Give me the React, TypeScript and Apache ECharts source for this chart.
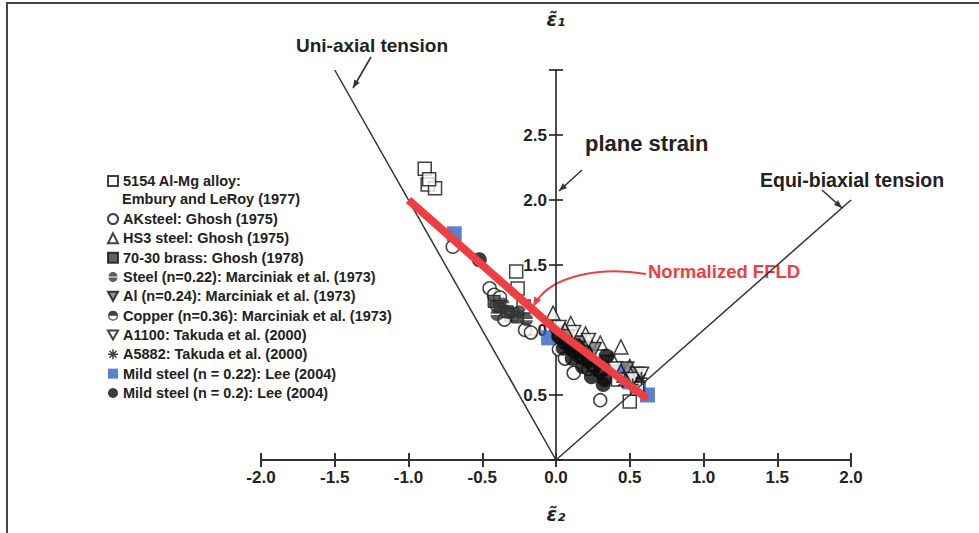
import React, { useEffect, useRef } from "react";
import * as echarts from "echarts";

// ---------- data (strain coordinates: [epsilon2, epsilon1]) ----------
const X_MIN = -2.0;
const X_MAX = 2.0;
const Y_MIN = 0;
const Y_MAX = 3.0;
const STEP = 0.5;

const NAME_ALMG = "5154 Al-Mg alloy: Embury and LeRoy (1977)";
const NAME_AK = "AKsteel: Ghosh (1975)";
const NAME_HS3 = "HS3 steel: Ghosh (1975)";
const NAME_BRASS = "70-30 brass: Ghosh (1978)";
const NAME_STEEL = "Steel (n=0.22): Marciniak et al. (1973)";
const NAME_AL = "Al (n=0.24): Marciniak et al. (1973)";
const NAME_CU = "Copper (n=0.36): Marciniak et al. (1973)";
const NAME_A1100 = "A1100: Takuda et al. (2000)";
const NAME_A5882 = "A5882: Takuda et al. (2000)";
const NAME_MILD22 = "Mild steel (n = 0.22): Lee (2004)";
const NAME_MILD20 = "Mild steel (n = 0.2): Lee (2004)";

const alMg5154 = [
  [-0.89, 2.24], [-0.87, 2.12], [-0.82, 2.09], [-0.86, 2.16],
  [-0.27, 1.45], [-0.26, 1.32], [-0.22, 1.18], [-0.3, 1.12],
  [0.02, 0.98], [0.15, 0.9], [0.3, 0.7], [0.42, 0.62], [0.5, 0.45], [0.55, 0.55],
];
const akSteel = [
  [-0.7, 1.64], [-0.45, 1.32], [-0.42, 1.27], [-0.4, 1.19], [-0.35, 1.08],
  [-0.38, 1.25], [-0.21, 1.0], [-0.17, 0.98], [0.02, 0.85], [0.06, 0.78],
  [0.12, 0.67], [0.22, 0.7], [0.3, 0.46], [0.15, 0.85],
];
const hs3Steel = [
  [-0.02, 1.13], [0.1, 1.05], [0.2, 0.97], [0.3, 0.9], [0.44, 0.87],
  [0.38, 0.78], [0.5, 0.72], [0.06, 1.0],
];
const brass7030 = [[-0.42, 1.22], [-0.38, 1.18], [-0.33, 1.14], [-0.26, 1.1]];
const steel022 = [[-0.4, 1.12], [-0.31, 1.13], [-0.25, 1.14], [-0.36, 1.2], [-0.2, 1.08]];
const al024 = [[0.0, 0.97], [0.08, 0.95], [0.16, 0.9], [0.26, 0.85], [0.35, 0.75], [0.48, 0.7], [0.55, 0.66]];
const copper036 = [[0.05, 0.9], [0.12, 0.83], [0.18, 0.78], [0.25, 0.72], [0.32, 0.7]];
const a1100 = [[0.02, 1.02], [0.12, 0.98], [0.22, 0.92], [0.4, 0.7], [0.52, 0.62], [0.58, 0.66]];
const a5882 = [[0.58, 0.63], [0.52, 0.58], [0.45, 0.6]];
const mild022 = [[-0.69, 1.74], [-0.05, 0.94], [0.42, 0.68], [0.5, 0.6], [0.56, 0.55], [0.62, 0.5]];
const mild020 = [
  [-0.52, 1.54], [0.02, 0.95], [0.07, 0.9], [0.1, 0.86], [0.14, 0.88], [0.16, 0.8],
  [0.2, 0.83], [0.22, 0.76], [0.26, 0.72], [0.3, 0.68], [0.33, 0.62], [0.34, 0.8],
  [0.11, 0.78], [0.18, 0.72], [0.05, 0.86], [0.24, 0.64], [0.32, 0.58],
];

const uniaxialLine = [[0, 0], [-1.5, 3.0]];
const biaxialLine = [[0, 0], [2.0, 2.0]];
const ffldLine = [[-1.0, 2.0], [0.0, 1.0], [0.62, 0.47]];

const legendOrder = [
  NAME_AK, NAME_HS3, NAME_BRASS, NAME_STEEL, NAME_AL, NAME_CU,
  NAME_A1100, NAME_A5882, NAME_MILD22, NAME_MILD20,
];

// ---------- styling helpers ----------
const FONT = "'Liberation Sans', Arial, Helvetica, sans-serif";
const RED = "#ef3e42";
const INK = "#222";
const GRID_LEFT = 261;
const GRID_RIGHT = 128;
const GRID_W = 979 - GRID_LEFT - GRID_RIGHT;
// offset that places the vertical axis on epsilon2 = 0
const Y_AXIS_OFFSET = -GRID_W * (0 - X_MIN) / (X_MAX - X_MIN);

const SYM_DOWN = "path://M-10,-9L10,-9L0,9Z";
const SYM_SPLIT = "path://M-10,-1.2A10,10 0 0 1 10,-1.2Z M-10,1.2A10,10 0 0 0 10,1.2Z";
const SYM_HALF = "path://M-10,0A10,10 0 0 1 10,0Z M-10,0A10,10 0 0 0 10,0L7.5,0A7.5,7.5 0 0 1 -7.5,0Z";
const SYM_STAR =
  "path://M-1.5,-10L1.5,-10L1.5,-3.6L6,-8.1L8.1,-6L3.6,-1.5L10,-1.5L10,1.5L3.6,1.5L8.1,6L6,8.1L1.5,3.6L1.5,10L-1.5,10L-1.5,3.6L-6,8.1L-8.1,6L-3.6,1.5L-10,1.5L-10,-1.5L-3.6,-1.5L-8.1,-6L-6,-8.1L-1.5,-3.6Z";

function scatter(name: string, data: number[][], symbol: string, size: number, itemStyle: any) {
  return {
    type: "scatter",
    name,
    data,
    symbol,
    symbolSize: size,
    itemStyle,
    xAxisIndex: 0,
    yAxisIndex: 0,
    silent: true,
  };
}

const openStyle = { color: "#fff", borderColor: "#111", borderWidth: 1.5 };

function arrowHead(x1: number, y1: number, x2: number, y2: number, color: string, len = 8, w = 3.2) {
  const a = Math.atan2(y2 - y1, x2 - x1);
  const bx = x2 - len * Math.cos(a);
  const by = y2 - len * Math.sin(a);
  const px = -Math.sin(a) * w;
  const py = Math.cos(a) * w;
  return {
    type: "polygon",
    silent: true,
    shape: { points: [[x2, y2], [bx + px, by + py], [bx - px, by - py]] },
    style: { fill: color },
  };
}

function arrow(x1: number, y1: number, x2: number, y2: number, color: string, width = 1.6) {
  return [
    { type: "line", silent: true, shape: { x1, y1, x2, y2 }, style: { stroke: color, lineWidth: width } },
    arrowHead(x1, y1, x2, y2, color),
  ];
}

function label(text: string, x: number, y: number, size: number, color = INK) {
  return {
    type: "text",
    silent: true,
    style: {
      text, x, y, fill: color,
      font: `bold ${size}px ${FONT}`,
      align: "left", verticalAlign: "middle",
    },
  };
}

export default function App() {
  const ref = useRef<HTMLDivElement>(null);

  useEffect(() => {
    if (!ref.current) return;
    const chart = echarts.init(ref.current, undefined, { renderer: "svg" });

    const axisLabelStyle = { fontFamily: FONT, fontWeight: "bold", fontSize: 17, color: INK };
    const legendText = { fontFamily: FONT, fontWeight: "bold", fontSize: 14.5, color: INK, lineHeight: 16 };

    const option: any = {
      animation: false,
      backgroundColor: "#fff",
      grid: { left: GRID_LEFT, right: GRID_RIGHT, top: 70, bottom: 73 },
      xAxis: [
        {
          type: "value", min: X_MIN, max: X_MAX, interval: STEP, position: "bottom",
          name: "ε̃₂", nameLocation: "middle", nameGap: 44,
          nameTextStyle: { fontFamily: "'DejaVu Sans', sans-serif", fontWeight: "bold", fontStyle: "italic", fontSize: 19, color: INK },
          axisLine: { onZero: false, lineStyle: { color: "#333", width: 2 } },
          axisTick: { inside: false, length: 7, lineStyle: { color: "#333", width: 2 } },
          axisLabel: { ...axisLabelStyle, margin: 9, formatter: (v: number) => v.toFixed(1) },
          splitLine: { show: false },
        },
        {
          type: "value", min: X_MIN, max: X_MAX, interval: STEP, position: "bottom",
          axisLine: { show: true, onZero: false, lineStyle: { color: "rgba(0,0,0,0)", width: 0 } },
          axisTick: { inside: true, length: 7, lineStyle: { color: "#333", width: 2 } },
          axisLabel: { show: false },
          splitLine: { show: false },
        },
      ],
      yAxis: [
        {
          type: "value", min: Y_MIN, max: Y_MAX, interval: STEP, position: "left",
          offset: Y_AXIS_OFFSET,
          name: "ε̃₁", nameLocation: "end", nameGap: 42,
          nameTextStyle: { fontFamily: "'DejaVu Sans', sans-serif", fontWeight: "bold", fontStyle: "italic", fontSize: 19, color: INK, align: "center" },
          axisLine: { onZero: false, lineStyle: { color: "#222", width: 1.6 } },
          axisTick: { inside: false, length: 7, lineStyle: { color: "#222", width: 1.6 } },
          axisLabel: {
            ...axisLabelStyle, margin: 9,
            formatter: (v: number) => (v === Y_MIN || v === Y_MAX ? "" : v.toFixed(1)),
          },
          splitLine: { show: false },
        },
        {
          type: "value", min: Y_MIN, max: Y_MAX, interval: STEP, position: "left",
          offset: Y_AXIS_OFFSET,
          axisLine: { show: true, onZero: false, lineStyle: { color: "rgba(0,0,0,0)", width: 0 } },
          axisTick: { inside: true, length: 7, lineStyle: { color: "#222", width: 1.6 } },
          axisLabel: { show: false },
          splitLine: { show: false },
        },
      ],
      legend: [
        {
          orient: "vertical", left: 107, top: 173, padding: 0, selectedMode: false,
          itemWidth: 10, itemHeight: 10, itemGap: 3.3,
          data: [NAME_ALMG],
          formatter: () => "5154 Al-Mg alloy:",
          textStyle: legendText,
        },
        {
          orient: "vertical", left: 107, top: 211, padding: 0, selectedMode: false,
          itemWidth: 10, itemHeight: 10, itemGap: 3.33,
          data: legendOrder,
          textStyle: legendText,
        },
      ],
      series: [
        {
          type: "line", name: "Uni-axial tension", data: uniaxialLine, symbol: "none", silent: true,
          lineStyle: { color: "#333", width: 1.5 }, xAxisIndex: 0, yAxisIndex: 0,
        },
        {
          type: "line", name: "Equi-biaxial tension", data: biaxialLine, symbol: "none", silent: true,
          lineStyle: { color: "#333", width: 1.5 }, xAxisIndex: 0, yAxisIndex: 0,
        },
        scatter(NAME_MILD22, mild022, "rect", 15, { color: "#2f62c4" }),
        scatter(NAME_ALMG, alMg5154, "rect", 13, openStyle),
        scatter(NAME_AK, akSteel, "circle", 13, openStyle),
        scatter(NAME_HS3, hs3Steel, "triangle", 14, openStyle),
        scatter(NAME_BRASS, brass7030, "rect", 12, { color: "#3a3a3a", borderColor: "#111", borderWidth: 1 }),
        scatter(NAME_STEEL, steel022, SYM_SPLIT, 13, { color: "#333" }),
        scatter(NAME_AL, al024, SYM_DOWN, 14, { color: "#777", borderColor: "#111", borderWidth: 1.5 }),
        scatter(NAME_A1100, a1100, SYM_DOWN, 14, openStyle),
        scatter(NAME_A5882, a5882, SYM_STAR, 12, { color: "#111" }),
        {
          type: "line", name: "Normalized FFLD", data: ffldLine, symbol: "none", silent: true,
          lineStyle: { color: RED, width: 8 }, xAxisIndex: 0, yAxisIndex: 0,
        },
        scatter(NAME_CU, copper036, SYM_HALF, 13, { color: "#111" }),
        scatter(NAME_MILD20, mild020, "circle", 15, { color: "#0a0a0a" }),
      ],
      graphic: [
        {
          type: "rect", silent: true,
          shape: { x: 7, y: 3, width: 1000, height: 600 },
          style: { fill: "none", stroke: "#444", lineWidth: 2 },
        },
        label("Embury and LeRoy (1977)", 122, 199, 14.5),
        label("Uni-axial tension", 296, 45, 19),
        label("plane strain", 585, 143, 22),
        label("Equi-biaxial tension", 760, 180, 19.5),
        label("Normalized FFLD", 648, 271, 18.5, RED),
        ...arrow(371, 57, 353, 88, "#333"),
        ...arrow(582, 170, 559, 191, "#333"),
        ...arrow(822, 190, 842, 208, "#333"),
        {
          type: "bezierCurve", silent: true,
          shape: { x1: 646, y1: 274, cpx1: 600, cpy1: 266, cpx2: 552, cpy2: 276, x2: 536, y2: 302 },
          style: { stroke: RED, lineWidth: 2, fill: "none" },
        },
        arrowHead(541, 292, 533, 307, RED, 10, 3.8),
      ],
    };

    chart.setOption(option);
    return () => chart.dispose();
  }, []);

  return (
    <div
      ref={ref}
      style={{ position: "absolute", left: 0, top: 0, width: 979, height: 533, background: "#fff" }}
    />
  );
}
